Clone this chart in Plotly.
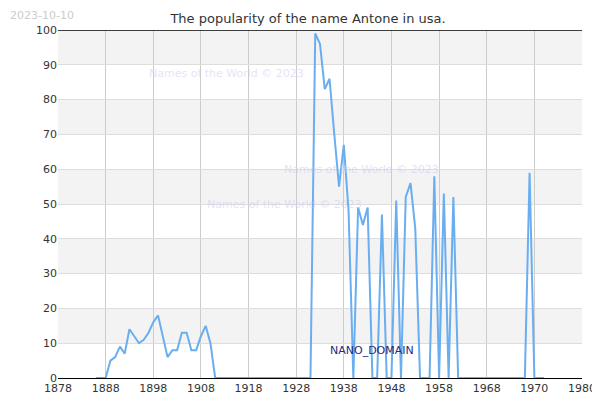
import plotly.graph_objects as go

years = list(range(1886, 1981))
first = [0, 0, 0, 5, 6, 9, 7, 14, 12, 10, 11, 13, 16, 18, 12, 6, 8, 8, 13, 13, 8, 8, 12, 15, 10]  # 1886-1910
middle = [0] * 20  # 1911-1930
late = [0, 99, 96, 83, 86, 70, 55, 67, 48, 0, 49, 44, 49, 0, 0, 47, 0, 0, 51, 0,
        52, 56, 43, 0, 0, 0, 58, 0, 53, 0, 52]  # 1931-1961
tail = [0] * 15 + [59, 0, 0, 0]  # 1962-1980
values = first + middle + late + tail

tick_vals = list(range(1878, 1989, 10))
tick_text = [str(v) for v in range(1878, 1969, 10)] + ["1970", "1980"]

fig = go.Figure()
fig.add_trace(go.Scatter(x=years, y=values, mode="lines",
                         line=dict(color="#6aaef0", width=2)))

# alternating bands
for lo in range(10, 100, 20):
    fig.add_hrect(y0=lo, y1=lo + 10, fillcolor="#f3f3f3", line_width=0, layer="below")

wm = "Names of the World © 2023"
for x, y in [(0.17, 0.9), (0.58, 0.6), (0.28, 0.5)]:
    fig.add_annotation(text=wm, x=x, y=y, xref="paper", yref="paper", showarrow=False,
                       font=dict(size=11, color="rgba(200,200,240,0.5)"))
fig.add_annotation(text="2023-10-10", x=0, y=1.065, xref="paper", yref="paper",
                   xanchor="left", yanchor="top", showarrow=False, xshift=-50,
                   font=dict(size=11, color="#cccccc"))
fig.add_annotation(text="NANO_DOMAIN", x=1944, y=8, showarrow=False,
                   font=dict(size=11, color="#2a2a7a"))

fig.update_layout(
    width=600, height=400,
    margin=dict(l=50, r=16, t=22, b=30),
    paper_bgcolor="white", plot_bgcolor="white",
    title=dict(text="The popularity of the name Antone in usa.", x=0.5, y=0.985,
               yanchor="top", font=dict(family="DejaVu Sans", size=13, color="#333")),
    font=dict(family="DejaVu Sans", size=11, color="#333"),
    showlegend=False,
)
fig.update_xaxes(range=[1878, 1988], tickvals=tick_vals, ticktext=tick_text,
                 showgrid=True, gridcolor="#cccccc", showline=True, linecolor="black",
                 mirror=False, zeroline=False, ticks="")
fig.update_yaxes(range=[0, 100], dtick=10, showgrid=True, gridcolor="#dddddd",
                 zeroline=False, ticks="")
fig.add_hline(y=100, line_color="black", line_width=1.5)

fig.write_html("out.html")
